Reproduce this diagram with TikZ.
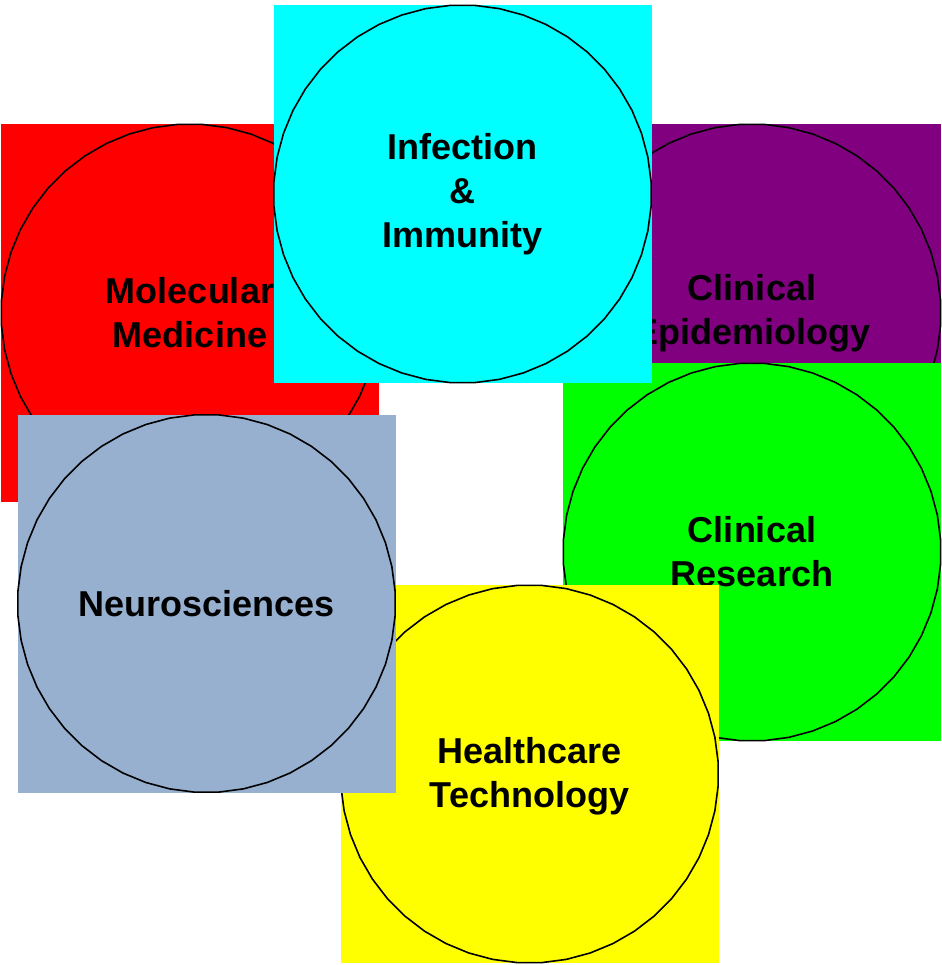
\documentclass[tikz,border=0pt]{standalone}
\usepackage{fontspec}
\usetikzlibrary{shapes.geometric}
\setmainfont{Liberation Sans}
\definecolor{tilered}{HTML}{FF0000}
\definecolor{tilecyan}{HTML}{00FFFF}
\definecolor{tilepurple}{HTML}{800080}
\definecolor{tilegreen}{HTML}{00FF00}
\definecolor{tileyellow}{HTML}{FFFF00}
\definecolor{tilegray}{HTML}{97B0D0}
\tikzset{
  tile/.style={rectangle, draw=none, inner sep=0pt, minimum size=378pt},
  ring/.style={regular polygon, regular polygon sides=48, draw=black,
    line width=1.6pt, inner sep=0pt, outer sep=0pt, minimum size=378pt},
  caption/.style={inner sep=0pt, align=center, text=black,
    font=\bfseries\fontsize{36}{44}\selectfont},
}
\newcommand{\themetile}[6]{%
  % #1 name, #2 colour, #3 x, #4 y, #5 caption, #6 caption offset
  \node[tile, fill=#2] (#1) at (#3,#4) {};
  \node[ring] (#1-ring) at (#1.center) {};
  \node[caption, yshift=#6] (#1-text) at (#1.center) {#5};
}
\begin{document}
\begin{tikzpicture}[x=1pt, y=-1pt]
  \useasboundingbox (0,0) rectangle (941,965);
  \themetile{molecular}{tilered}{190}{313}{Molecular\\Medicine}{0pt}
  \themetile{epidemiology}{tilepurple}{752}{313}{Clinical\\Epidemiology}{0pt}
  \themetile{research}{tilegreen}{752}{552}{Clinical\\Research}{0pt}
  \themetile{infection}{tilecyan}{462.5}{194}{Infection\\\&\\Immunity}{0pt}
  \themetile{technology}{tileyellow}{529.5}{774}{Healthcare\\Technology}{-2pt}
  \themetile{neuro}{tilegray}{206.5}{603.5}{Neurosciences}{0pt}
\end{tikzpicture}
\end{document}
